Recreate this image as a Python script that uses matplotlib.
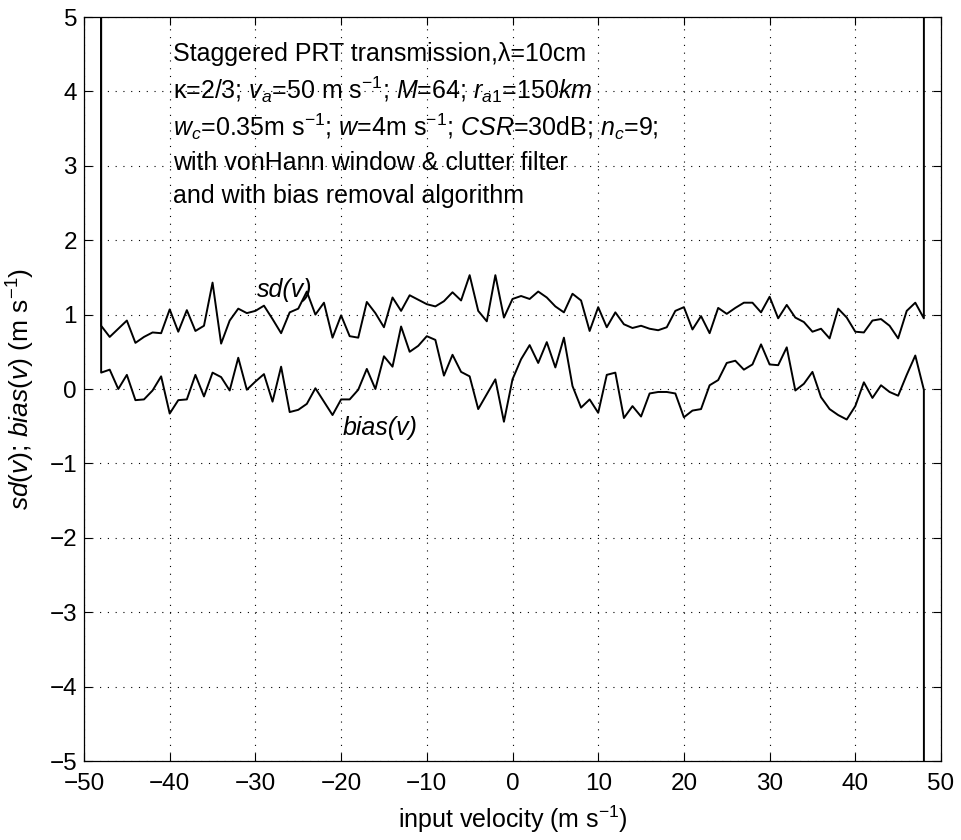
import numpy as np
import matplotlib.pyplot as plt

plt.rcParams['font.family'] = ['Liberation Sans', 'DejaVu Sans']
plt.rcParams['mathtext.fontset'] = 'custom'
plt.rcParams['mathtext.rm'] = 'Liberation Sans'
plt.rcParams['mathtext.it'] = 'Liberation Sans:italic'

# input velocity (m/s); end points alias far out of range
velocity = np.arange(-49, 50)

sd = [1000,
      0.85, 0.70, 0.81, 0.92, 0.62, 0.70, 0.76, 0.75, 1.07, 0.77,
      1.06, 0.78, 0.85, 1.43, 0.61, 0.92, 1.08, 1.02, 1.05, 1.12,
      0.94, 0.75, 1.03, 1.08, 1.31, 1.00, 1.16, 0.69, 0.99, 0.71,
      0.69, 1.17, 1.02, 0.83, 1.23, 1.05, 1.26, 1.20, 1.14, 1.11,
      1.18, 1.30, 1.19, 1.53, 1.05, 0.91, 1.53, 0.96, 1.21, 1.25,
      1.21, 1.31, 1.23, 1.11, 1.03, 1.28, 1.19, 0.78, 1.10, 0.83,
      1.03, 0.87, 0.82, 0.85, 0.81, 0.79, 0.83, 1.05, 1.10, 0.80,
      0.98, 0.75, 1.09, 1.01, 1.09, 1.16, 1.16, 1.03, 1.24, 0.95,
      1.13, 0.96, 0.90, 0.77, 0.81, 0.68, 1.08, 0.96, 0.77, 0.76,
      0.92, 0.94, 0.85, 0.68, 1.05, 1.16, 0.95,
      1000]

bias = [1000,
        0.22, 0.26, 0.00, 0.19, -0.15, -0.14, -0.02, 0.17, -0.33, -0.15,
        -0.14, 0.19, -0.10, 0.22, 0.16, -0.02, 0.42, -0.01, 0.10, 0.20,
        -0.17, 0.30, -0.31, -0.28, -0.20, 0.01, -0.17, -0.35, -0.14, -0.14,
        -0.01, 0.27, 0.00, 0.44, 0.30, 0.84, 0.50, 0.58, 0.71, 0.66,
        0.18, 0.46, 0.23, 0.17, -0.27, -0.07, 0.13, -0.44, 0.13, 0.40,
        0.59, 0.35, 0.63, 0.29, 0.69, 0.04, -0.25, -0.14, -0.32, 0.19,
        0.22, -0.39, -0.23, -0.37, -0.06, -0.04, -0.04, -0.06, -0.38, -0.29,
        -0.27, 0.05, 0.12, 0.35, 0.38, 0.26, 0.33, 0.60, 0.33, 0.32,
        0.56, -0.02, 0.07, 0.23, -0.11, -0.27, -0.35, -0.41, -0.23, 0.09,
        -0.12, 0.05, -0.04, -0.09, 0.19, 0.45, -0.01,
        -1000]

xticks = np.arange(-50, 51, 10)
yticks = np.arange(-5, 6, 1)

notes = ['Staggered PRT transmission,λ=10cm',
         r'κ=2/3; $v_a$=50 m s$^{-1}$; $M$=64; $r_{a1}$=$\it{150km}$',
         r'$w_c$=0.35m s$^{-1}$; $w$=4m s$^{-1}$; $CSR$=30dB; $n_c$=9;',
         'with vonHann window & clutter filter',
         'and with bias removal algorithm']
note_y = [4.5, 4.02, 3.52, 3.04, 2.6]

fig = plt.figure(figsize=(9.61, 8.4), dpi=100)
ax = fig.add_axes([84/961, 1 - 761/840, (941 - 84)/961, (761 - 17)/840])

ax.plot(velocity, sd, color='k', lw=1.4)
ax.plot(velocity, bias, color='k', lw=1.4)

ax.set_xlim(-50, 50)
ax.set_ylim(-5, 5)
ax.set_xticks(xticks)
ax.set_yticks(yticks)
ax.grid(True, color='k', linestyle=(0, (1, 6)), lw=0.8)
ax.tick_params(direction='in', top=True, right=True, labelsize=17.5,
               length=6, width=0.8)
ax.tick_params(axis='x', pad=9)
ax.tick_params(axis='y', pad=5)
for s in ax.spines.values():
    s.set_linewidth(0.9)

ax.set_xlabel(r'input velocity (m s$^{-1}$)', fontsize=18)
ax.xaxis.set_label_coords(0.5, -0.079)
ax.xaxis.label.set_va('center')
ax.set_ylabel(r'$\it{sd(v)}$; $\it{bias(v)}$ (m s$^{-1}$)', fontsize=19)
ax.yaxis.set_label_coords(-0.074, 0.5)
ax.yaxis.label.set_va('center')

for s, y in zip(notes, note_y):
    ax.text(-39.6, y, s, fontsize=18, va='center')

ax.text(-29.8, 1.33, 'sd(v)', fontsize=18, style='italic', va='center')
ax.text(-19.8, -0.52, 'bias(v)', fontsize=18, style='italic', va='center')

fig.savefig('out.png', dpi=100)
